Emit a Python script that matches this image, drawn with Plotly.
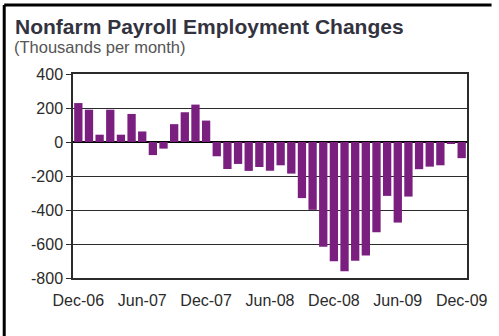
import plotly.graph_objects as go

# Monthly change in nonfarm payrolls, thousands
months = [
    "Dec-06", "Jan-07", "Feb-07", "Mar-07", "Apr-07", "May-07", "Jun-07",
    "Jul-07", "Aug-07", "Sep-07", "Oct-07", "Nov-07", "Dec-07",
    "Jan-08", "Feb-08", "Mar-08", "Apr-08", "May-08", "Jun-08",
    "Jul-08", "Aug-08", "Sep-08", "Oct-08", "Nov-08", "Dec-08",
    "Jan-09", "Feb-09", "Mar-09", "Apr-09", "May-09", "Jun-09",
    "Jul-09", "Aug-09", "Sep-09", "Oct-09", "Nov-09", "Dec-09",
]
changes = [
    229, 190, 43, 190, 43, 165, 62, -77, -39, 105, 175, 220, 126,
    -84, -159, -129, -170, -147, -169, -137, -186, -330, -399, -616, -701,
    -760, -699, -668, -531, -317, -474, -321, -160, -145, -137, -8, -95,
]
x_labels = months[::6]
y_ticks = [400, 200, 0, -200, -400, -600, -800]
y_tick_text = [str(v) for v in y_ticks]

BAR = "#7a1f7f"
INK = "#2b2b2b"
FONT = "Liberation Sans, Arial, sans-serif"

fig = go.Figure()
fig.add_trace(go.Bar(x=months, y=changes, marker=dict(color=BAR, line=dict(width=0)),
                     showlegend=False, hoverinfo="x+y"))

fig.update_layout(
    width=499, height=336,
    margin=dict(l=73, r=25, t=74, b=58),
    paper_bgcolor="white", plot_bgcolor="white",
    bargap=0.22,
    font=dict(family=FONT, color=INK, size=16),
    xaxis=dict(
        type="category", categoryorder="array", categoryarray=months,
        range=[-0.5, len(months) - 0.5],
        tickvals=x_labels, ticktext=x_labels, ticks="",
        showgrid=False, showline=True, mirror=True,
        linecolor=INK, linewidth=1.5,
        tickfont=dict(size=16, color=INK), ticklabelstandoff=7,
    ),
    # Category axis drawn along the zero line, with tick marks every six months
    xaxis2=dict(
        type="category", categoryorder="array", categoryarray=months,
        range=[-0.5, len(months) - 0.5],
        overlaying="x", anchor="free", position=800 / 1200,
        tickvals=months[6:36:6], tickson="boundaries",
        ticks="outside", ticklen=5, tickwidth=1.2, tickcolor=INK,
        showticklabels=False, showgrid=False, showline=False,
    ),
    yaxis=dict(
        range=[-800, 400], tickvals=y_ticks, ticktext=y_tick_text,
        ticks="outside", ticklen=5, tickcolor=INK, tickwidth=1.2,
        showgrid=True, gridcolor=INK, gridwidth=1.3,
        zeroline=True, zerolinecolor="#000000", zerolinewidth=2,
        showline=True, mirror=True, linecolor=INK, linewidth=1.5,
        tickfont=dict(size=16, color=INK),
    ),
    annotations=[
        dict(text="<b>Nonfarm Payroll Employment Changes</b>", xref="paper", yref="paper",
             x=-73 / 401 + 12 / 401, y=(278 - 13) / 204, xanchor="left", yanchor="top",
             showarrow=False, font=dict(size=21, color="#333340", family=FONT)),
        dict(text="(Thousands per month)", xref="paper", yref="paper",
             x=-73 / 401 + 11 / 401, y=(278 - 36) / 204, xanchor="left", yanchor="top",
             showarrow=False, font=dict(size=16.5, color="#555555", family=FONT)),
    ],
    shapes=[
        dict(type="line", xref="paper", yref="paper",
             x0=-70 / 401, x1=1 + 25 / 401, y0=(278 - 5) / 204, y1=(278 - 5) / 204,
             line=dict(color="#000000", width=3)),
        dict(type="line", xref="paper", yref="paper",
             x0=-70 / 401, x1=-70 / 401, y0=(278 - 5) / 204, y1=-58 / 204,
             line=dict(color="#000000", width=3)),
    ],
)

fig.write_html("out.html")
